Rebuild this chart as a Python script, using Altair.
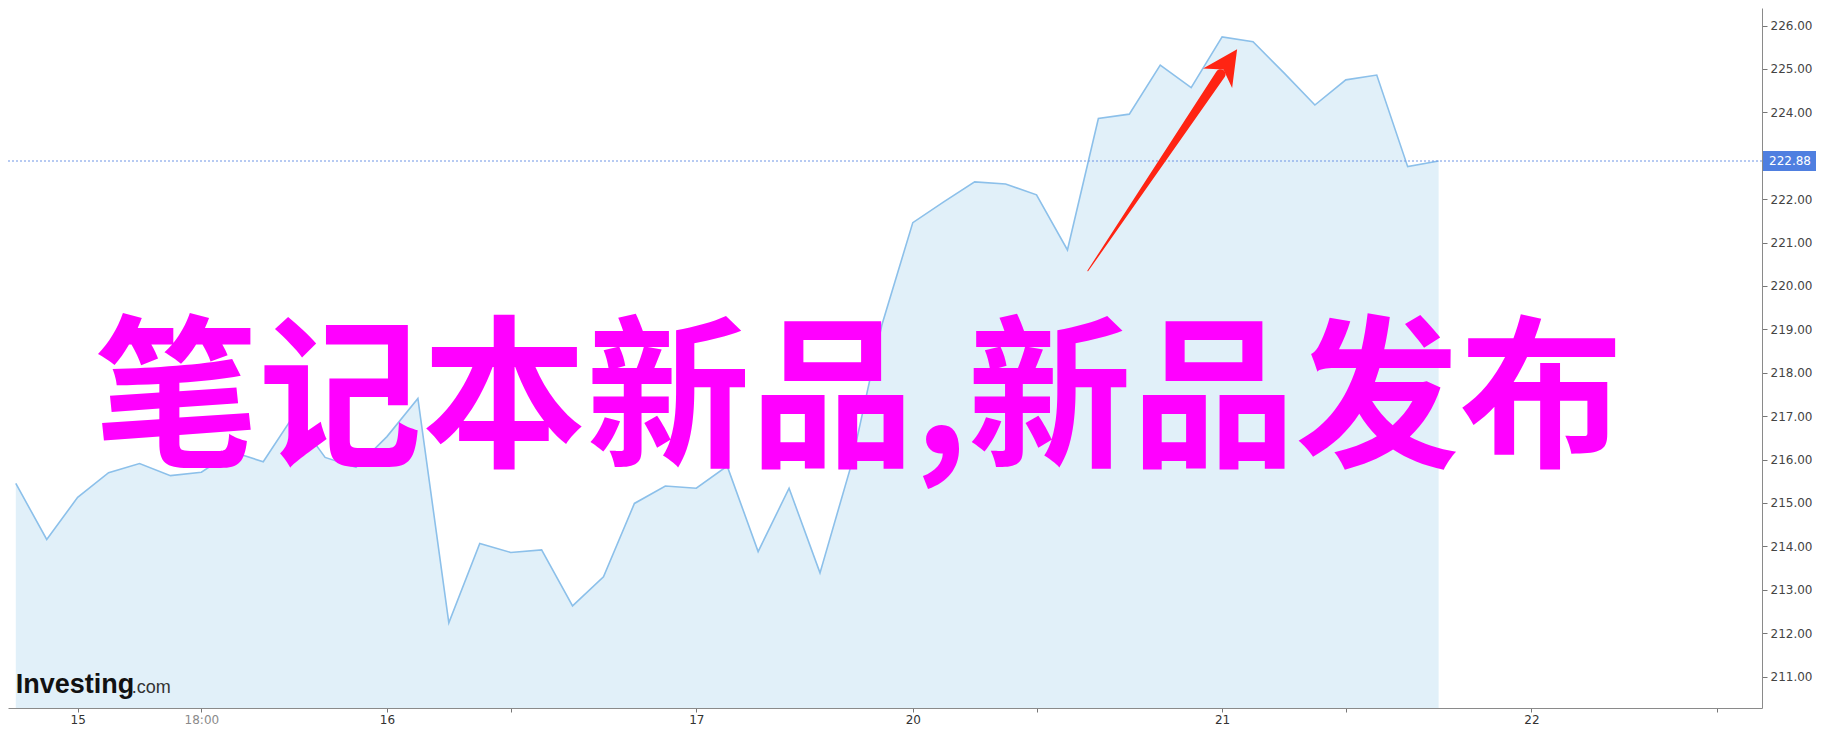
import altair as alt
import pandas as pd

# ---- data ----
prices = [215.45, 214.16, 215.13, 215.70, 215.91, 215.63, 215.71, 216.18, 215.95, 217.03,
          216.05, 215.82, 216.53, 217.41, 212.24, 214.07, 213.86, 213.92, 212.63, 213.30,
          214.99, 215.39, 215.34, 215.85, 213.88, 215.34, 213.39, 215.85, 219.10, 221.46,
          221.94, 222.40, 222.35, 222.10, 220.83, 223.86, 223.96, 225.09, 224.57, 225.74,
          225.63, 224.91, 224.17, 224.75, 224.86, 222.75, 222.88]
bar_index = list(range(len(prices)))

x_tick_pos = [2, 6, 12, 16, 22, 29, 33, 39, 43, 49, 55]
x_tick_text = ["15", "18:00", "16", "", "17", "20", "", "21", "", "22", ""]
x_light_ticks = [6]
y_ticks = [211, 212, 213, 214, 215, 216, 217, 218, 219, 220, 221, 222, 224, 225, 226]
last_price = [222.88]

title_text = ["笔记本新品,新品发布"]
title_at = [27.26, 216.14]

arrow_x = [34.66, 38.95]
arrow_y = [220.35, 224.88]
arrow_w = [1, 10]
arrow_head_at = [39.17, 225.12]

logo_words = ["Investing", ".com"]
logo_x = [0.0, 3.75]
logo_y = [210.62, 210.62]

# ---- layout ----
W, H = 1754, 700
XD = [-0.252, 56.455]
YD = [210.2765, 226.4055]

xs = alt.Scale(domain=XD, nice=False, zero=False)
ys = alt.Scale(domain=YD, nice=False, zero=False)


def X(field):
    return alt.X(field, type="quantitative", scale=xs, title=None)


def Y(field):
    return alt.Y(field, type="quantitative", scale=ys, title=None)


df = pd.DataFrame({"i": bar_index, "p": prices})

label_expr = ""
for pos, txt in zip(x_tick_pos, x_tick_text):
    label_expr += f"datum.value == {pos} ? '{txt}' : "
label_expr += "''"
light_test = "indexof(" + str(x_light_ticks) + ", datum.value) >= 0"

x_axis = alt.Axis(values=x_tick_pos, labelExpr=label_expr, tickSize=4, labelPadding=2,
                  domainColor="#8a8a8a", tickColor="#777777", labelFont="DejaVu Sans",
                  labelFontSize=12, grid=False, labelOverlap=False, labelFlush=False,
                  labelColor=alt.condition(light_test, alt.value("#8a8a8a"), alt.value("#333333")))
y_axis = alt.Axis(orient="right", values=y_ticks, format=".2f", tickSize=5, labelPadding=3,
                  domainColor="#8a8a8a", tickColor="#777777", labelFont="DejaVu Sans",
                  labelFontSize=12, labelColor="#444444", grid=False, labelOverlap=False)

base = alt.Chart(df)

area = base.mark_area(color="#e1f0f9", clip=True).encode(
    x=alt.X("i:Q", scale=xs, axis=x_axis, title=None),
    y=alt.Y("p:Q", scale=ys, axis=y_axis, title=None),
    y2=alt.datum(YD[0]),
)
line = base.mark_line(color="#8cc0ea", strokeWidth=1.6, clip=True).encode(x=X("i"), y=Y("p"))

price_df = pd.DataFrame({"v": last_price,
                         "hi": [last_price[0] + 0.23], "lo": [last_price[0] - 0.23],
                         "t": [f"{last_price[0]:.2f}"]})
price_rule = alt.Chart(price_df).mark_rule(color="#6f95e5", strokeWidth=1, strokeDash=[2, 2]).encode(
    y=Y("v")
)
price_box = alt.Chart(price_df).mark_rect(color="#4f7fe0").encode(
    x=alt.value(W + 1), x2=alt.value(W + 54),
    y=Y("hi"), y2="lo:Q",
)
price_text = alt.Chart(price_df).mark_text(color="white", font="DejaVu Sans", fontSize=12,
                                           align="center", baseline="middle").encode(
    x=alt.value(W + 28), y=Y("v"), text="t:N"
)

arrow_df = pd.DataFrame({"x": arrow_x, "y": arrow_y, "w": arrow_w})
arrow_shaft = alt.Chart(arrow_df).mark_trail(color="#ff2413").encode(
    x=X("x"), y=Y("y"),
    size=alt.Size("w:Q", scale=None, legend=None),
)
head_df = pd.DataFrame({"x": [arrow_head_at[0]], "y": [arrow_head_at[1]]})
arrow_head = alt.Chart(head_df).mark_point(
    shape="M0,-1L1,1L0,0.4L-1,1Z", filled=True, size=1225, angle=33.9,
    color="#ff2413", opacity=1, strokeWidth=0).encode(x=X("x"), y=Y("y"))

logo_df = pd.DataFrame({"x": logo_x, "y": logo_y, "t": logo_words})
logo_main = alt.Chart(logo_df.iloc[[0]]).mark_text(
    font="Liberation Sans", fontWeight="bold", fontSize=27, color="#111111",
    align="left", baseline="alphabetic").encode(x=X("x"), y=Y("y"), text="t:N")
logo_com = alt.Chart(logo_df.iloc[[1]]).mark_text(
    font="Liberation Sans", fontSize=18, color="#333333",
    align="left", baseline="alphabetic").encode(x=X("x"), y=Y("y"), text="t:N")

title_df = pd.DataFrame({"x": [title_at[0]], "y": [title_at[1]], "t": title_text})
title = alt.Chart(title_df).mark_text(
    font="Noto Sans CJK SC", fontWeight="bold", fontSize=164, color="#ff00ff",
    align="center", baseline="alphabetic").encode(x=X("x"), y=Y("y"), text="t:N")

chart = alt.layer(
    area, line, price_rule, logo_main, logo_com, arrow_shaft, arrow_head, title, price_box, price_text
).properties(
    width=W, height=H,
    background="white",
    autosize=alt.AutoSizeParams(type="none"),
    padding={"left": 0, "top": 0, "right": 54, "bottom": 21},
).configure_view(stroke=None)

chart.save("out.html", embed_options={"renderer": "svg", "actions": False})
